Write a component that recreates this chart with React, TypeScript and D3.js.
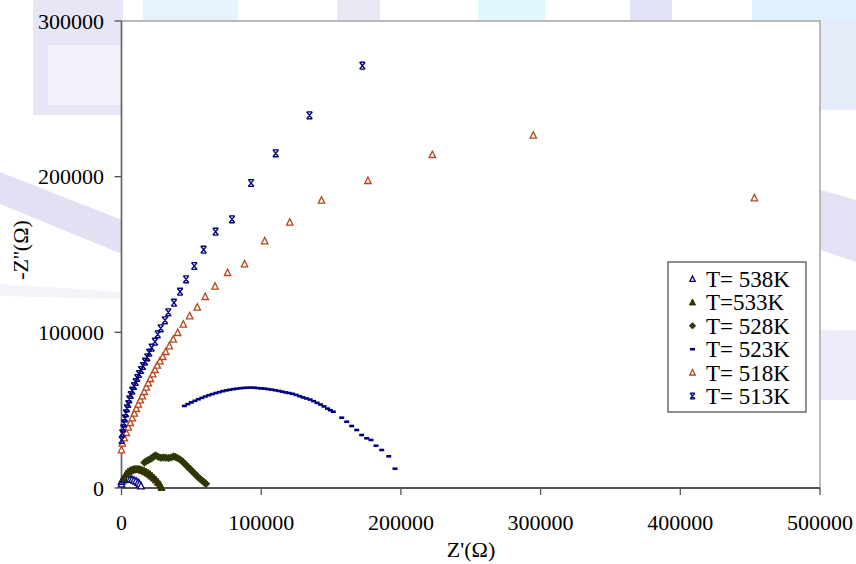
import React from "react";
import * as d3 from "d3";

const W = 856;
const H = 564;

const xTicks = [0, 100000, 200000, 300000, 400000, 500000];
const yTicks = [0, 100000, 200000, 300000];
const seriesNames = ["T= 538K", "T=533K", "T= 528K", "T= 523K", "T= 518K", "T= 513K"];

// T = 538K (Z', -Z'')
const zr538 = [0, 0, 1070, 2150, 3220, 4650, 6080, 7520, 8950, 10380, 11810, 12880, 13960];
const zi538 = [2570, 4180, 5140, 5590, 5780, 5780, 5650, 5400, 4950, 4370, 3530, 2570, 1280];

// T = 533K
const zr533 = [1790, 3220, 4650, 6080, 7520, 8950, 10380, 11810, 13240, 14670, 16110, 17540, 18970, 20400, 21830, 23260, 24690, 26130, 27560, 28630];
const zi533 = [6420, 9000, 10280, 11050, 11560, 11880, 12010, 12010, 11820, 11430, 10920, 10280, 9510, 8610, 7580, 6420, 5140, 3660, 2060, 320];

// T = 528K
const zr528 = [16460, 17900, 19330, 20760, 22190, 23620, 24700, 26490, 28270, 30060, 31850, 33640, 35430, 37220, 38650, 40090, 41880, 43670, 45450, 47240, 49030, 50820, 52610, 54400, 56190, 57980, 59410, 60480];
const zi528 = [16380, 17340, 17990, 18630, 19590, 20560, 20880, 19910, 19400, 19590, 19460, 19270, 19590, 20240, 19910, 19270, 18310, 17020, 15420, 13810, 12210, 10600, 8990, 7390, 5910, 4500, 3530, 2700];

// T = 523K
const zr523 = [45000, 47500, 50000, 52500, 55000, 57500, 60000, 62500, 65000, 67500, 70000, 72500, 75000, 77500, 80000, 82500, 85000, 87500, 90000, 92500, 95000, 97500, 100000, 102500, 105000, 107500, 110000, 112500, 115000, 117500, 120000, 122500, 125000, 127500, 130000, 132500, 135000, 137500, 140000, 142500, 145000, 147500, 149500, 151600, 157620, 161200, 164780, 168360, 171940, 175520, 178600, 182180, 186260, 191270, 195780];
const zi523 = [52700, 53900, 55000, 56000, 57000, 57900, 58800, 59600, 60300, 61000, 61600, 62200, 62700, 63100, 63500, 63800, 64100, 64300, 64400, 64500, 64400, 64200, 64000, 63800, 63500, 63200, 62800, 62400, 61900, 61400, 61000, 60500, 59800, 59000, 58200, 57500, 56800, 55800, 54700, 53600, 52400, 51000, 50000, 49010, 45160, 42590, 39830, 37260, 34050, 31930, 30840, 27170, 24410, 20360, 12400];

// T = 518K
const zr518 = [0, 570, 2000, 3440, 4870, 6300, 7730, 9160, 10590, 12030, 13460, 14890, 16320, 17750, 19180, 20620, 22330, 23980, 25630, 27560, 29490, 31640, 34220, 37080, 40230, 44240, 48820, 54260, 59910, 67000, 75950, 88050, 102500, 120470, 143160, 176380, 222480, 294770, 453050];
const zi518 = [24410, 28720, 32120, 35520, 38990, 41950, 44970, 47990, 50940, 53770, 56530, 59100, 61860, 64690, 67450, 70210, 73230, 76000, 78820, 81580, 84350, 87560, 91220, 95530, 99770, 105160, 110490, 116080, 122890, 129570, 138310, 143900, 158670, 170680, 184820, 197410, 214110, 226580, 186300];

// T = 513K
const zr513 = [140, 570, 1290, 1790, 2510, 3220, 3940, 4870, 5580, 6590, 7730, 8950, 10160, 11310, 12530, 13960, 15390, 16820, 18470, 19900, 21620, 23980, 25910, 28060, 31140, 33500, 37580, 41950, 46240, 52110, 58770, 67360, 79100, 92770, 110380, 134570, 172440];
const zi513 = [30840, 35140, 38350, 41560, 44780, 47990, 51200, 53960, 56980, 59740, 62510, 65520, 68090, 70660, 73230, 75800, 78370, 81140, 83960, 86920, 90130, 93980, 98740, 102590, 107730, 112870, 119040, 126100, 134070, 142610, 153080, 164650, 172610, 195930, 215010, 239420, 271290];

const NAVY = "#000080";
const ORANGE = "#b8451a";
const OLIVE = "#333300";
const OLIVE2 = "#2c3806";

type Kind = "triOpen" | "triFill" | "diamond" | "dash" | "star";

const seriesDefs: { r: number[]; i: number[]; kind: Kind; color: string }[] = [
  { r: zr538, i: zi538, kind: "triOpen", color: NAVY },
  { r: zr533, i: zi533, kind: "triFill", color: OLIVE },
  { r: zr528, i: zi528, kind: "diamond", color: OLIVE2 },
  { r: zr523, i: zi523, kind: "dash", color: NAVY },
  { r: zr518, i: zi518, kind: "triOpen", color: ORANGE },
  { r: zr513, i: zi513, kind: "star", color: NAVY },
];

function Marker({ kind, x, y, color, big }: { kind: Kind; x: number; y: number; color: string; big?: boolean }) {
  const s = big ? 1 : 0.85;
  if (kind === "triOpen") {
    const hw = 3.2 * s, h1 = 3.6 * s, h2 = 2.8 * s;
    return <path d={`M${x},${y - h1}L${x + hw},${y + h2}L${x - hw},${y + h2}Z`} fill="white" stroke={color} strokeWidth={1.3} />;
  }
  if (kind === "triFill") {
    const hw = 3.6 * s, h1 = 4 * s, h2 = 3 * s;
    return <path d={`M${x},${y - h1}L${x + hw},${y + h2}L${x - hw},${y + h2}Z`} fill={color} stroke={color} strokeWidth={1} />;
  }
  if (kind === "diamond") {
    const r = 3.8 * s;
    return <path d={`M${x},${y - r}L${x + r},${y}L${x},${y + r}L${x - r},${y}Z`} fill={color} stroke={color} strokeWidth={0.8} />;
  }
  if (kind === "dash") {
    return <rect x={x - 2.5} y={y - 1.3} width={5} height={2.6} fill={color} />;
  }
  const a = 2.8 * s, b = 3.4 * s;
  return (
    <path
      d={`M${x - a},${y - b}L${x + a},${y + b}M${x + a},${y - b}L${x - a},${y + b}M${x - a},${y - b}L${x + a},${y - b}M${x - a},${y + b}L${x + a},${y + b}`}
      stroke={color}
      strokeWidth={1.4}
      fill="none"
    />
  );
}

const FONT = '"Liberation Serif", "Times New Roman", Times, "DejaVu Serif", serif';

export default function App() {
  const x = d3.scaleLinear().domain([0, 500000]).range([121.5, 820]);
  const y = d3.scaleLinear().domain([0, 300000]).range([488, 21]);
  const legendY = d3.scalePoint<number>().domain([0, 1, 2, 3, 4, 5]).range([279, 396]);
  const tstyle: React.CSSProperties = { fontFamily: FONT };

  return (
    <div style={{ position: "absolute", left: 0, top: 0 }}>
      <svg width={W} height={H} style={{ display: "block", background: "white", fontFamily: FONT }}>
        {/* faint watermark in the background */}
        <g>
          <rect x={33} y={0} width={90} height={115} fill="#e6e6f6" />
          <rect x={48} y={45} width={75} height={60} fill="#f1f1fa" />
          <path d="M0,172L122,220L122,254L0,204Z" fill="#e1e1f3" />
          <path d="M0,284L122,292L122,299L0,296Z" fill="#f3f3f9" />
          <rect x={143} y={0} width={95} height={20} fill="#e6f3fc" />
          <rect x={337} y={0} width={43} height={20} fill="#e8e8f2" />
          <rect x={478} y={0} width={67} height={20} fill="#e2f7fb" />
          <rect x={630} y={0} width={42} height={20} fill="#e3e3f7" />
          <rect x={752} y={0} width={104} height={20} fill="#e0f0fc" />
          <rect x={821} y={20} width={35} height={90} fill="#e6ebf9" />
          <path d="M821,190L856,200L856,262L821,250Z" fill="#e2e2f4" />
          <rect x={821} y={330} width={35} height={70} fill="#ececf8" />
        </g>

        {/* plot area */}
        <rect x={121.5} y={21} width={698.5} height={467} fill="white" stroke="#8c8c8c" strokeWidth={1.2} />

        {/* y axis */}
        <line x1={121.5} x2={121.5} y1={21} y2={488} stroke="#666" strokeWidth={1.6} />
        {yTicks.map((t) => (
          <g key={"y" + t}>
            <line x1={114.5} x2={121.5} y1={y(t)} y2={y(t)} stroke="#555" strokeWidth={1.3} />
            <text x={104} y={y(t) + 7.5} textAnchor="end" style={tstyle} fontSize={22} fill="#000">
              {t}
            </text>
          </g>
        ))}

        {/* x axis */}
        <line x1={121.5} x2={820} y1={488} y2={488} stroke="#555" strokeWidth={1.8} />
        {xTicks.map((t) => (
          <g key={"x" + t}>
            <line x1={x(t)} x2={x(t)} y1={488} y2={495} stroke="#555" strokeWidth={1.3} />
            <text x={x(t)} y={530} textAnchor="middle" style={tstyle} fontSize={22} fill="#000">
              {t}
            </text>
          </g>
        ))}

        {/* axis titles */}
        <text x={471} y={557} textAnchor="middle" style={tstyle} fontSize={22} fill="#000">
          Z'(Ω)
        </text>
        <text transform="translate(28,250) rotate(-90)" textAnchor="middle" style={tstyle} fontSize={22} fill="#000">
          -Z''(Ω)
        </text>

        {/* series */}
        {seriesDefs.map((s, si) => (
          <g key={"s" + si}>
            {s.r.map((v, k) => (
              <Marker key={k} kind={s.kind} x={x(v)} y={y(s.i[k])} color={s.color} big />
            ))}
          </g>
        ))}

        {/* legend */}
        <rect x={668} y={262} width={138} height={150} fill="white" stroke="#555" strokeWidth={1.3} />
        {seriesNames.map((n, k) => (
          <g key={"l" + k}>
            <Marker kind={seriesDefs[k].kind} x={692.5} y={legendY(k)!} color={seriesDefs[k].color} />
            <text x={706} y={legendY(k)! + 8} style={tstyle} fontSize={23} fill="#000">
              {n}
            </text>
          </g>
        ))}
      </svg>
    </div>
  );
}
